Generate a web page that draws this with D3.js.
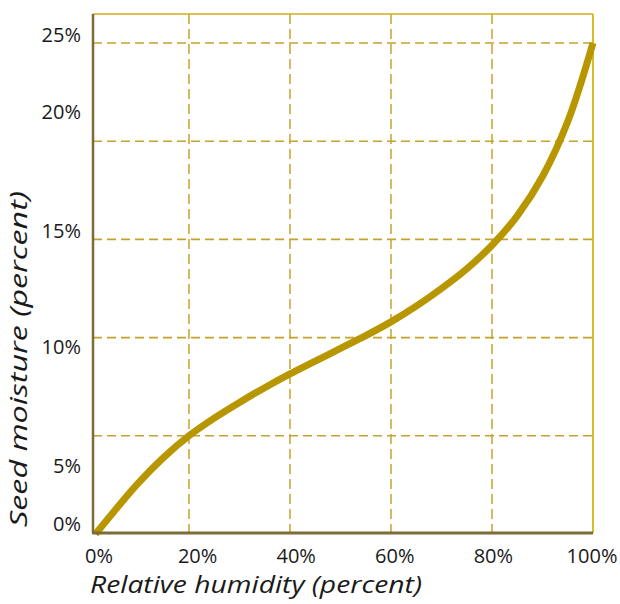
<!DOCTYPE html>
<html>
<head>
<meta charset="utf-8">
<script src="https://cdn.jsdelivr.net/npm/d3@7"></script>
<style>
  body { margin: 0; background: #fff; }
  text { font-family: "Open Sans", "Noto Sans", sans-serif; fill: #1a1a1a; }
</style>
</head>
<body>
<div id="plot"></div>
<script>
// data
var humidity = [1.5, 5, 10, 15, 20, 25, 30, 35, 40, 45, 50, 55, 60, 65, 70, 75, 80, 85, 90, 95, 100];
var moisture = [0, 1.1, 2.6, 3.9, 5.0, 5.9, 6.7, 7.45, 8.15, 8.8, 9.45, 10.1, 10.8, 11.6, 12.5, 13.5, 14.7, 16.2, 18.2, 21.0, 25.0];

var xTicks = [0, 20, 40, 60, 80, 100];
var yTicks = [0, 5, 10, 15, 20, 25];
// the moisture labels sit unevenly against the grid in the original
var yLabelAt = [0.45, 3.4, 9.45, 15.35, 21.4, 25.3];

var svgWidth = 620, svgHeight = 604;
var margin = { top: 14, right: 27, bottom: 71, left: 93 };
var width = svgWidth - margin.left - margin.right;
var height = svgHeight - margin.top - margin.bottom;

var svg = d3.select("#plot").append("svg")
    .attr("width", svgWidth)
    .attr("height", svgHeight);

var chartGroup = svg.append("g")
    .attr("transform", `translate(${margin.left}, ${margin.top})`);

var xScale = d3.scaleLinear().domain([1, 100]).range([0, width]);
var yScale = d3.scaleLinear().domain([0, 25]).range([height + 1, 29]);
var xLabelScale = d3.scaleLinear().domain([0, 100]).range([6, width - 1]);

// grid
chartGroup.selectAll(".vgrid")
    .data(xTicks.filter(d => d > 0 && d < 100))
    .enter().append("line")
    .attr("x1", d => xScale(d)).attr("x2", d => xScale(d))
    .attr("y1", 0).attr("y2", height)
    .attr("stroke", "#c9a838")
    .attr("stroke-width", 1.6)
    .attr("stroke-dasharray", "10,5");

chartGroup.selectAll(".hgrid")
    .data(yTicks.filter(d => d > 0))
    .enter().append("line")
    .attr("x1", 0).attr("x2", width)
    .attr("y1", d => yScale(d)).attr("y2", d => yScale(d))
    .attr("stroke", "#c4a22c")
    .attr("stroke-width", 1.6)
    .attr("stroke-dasharray", "9,5");

// frame: gold top/right, olive left/bottom
chartGroup.append("line")
    .attr("x1", 0).attr("x2", width).attr("y1", 0).attr("y2", 0)
    .attr("stroke", "#d4ad1e").attr("stroke-width", 1.5);
chartGroup.append("line")
    .attr("x1", width).attr("x2", width).attr("y1", 0).attr("y2", height)
    .attr("stroke", "#dcbb2a").attr("stroke-width", 2);

// the curve
var line = d3.line()
    .x((d, i) => xScale(humidity[i]))
    .y(d => yScale(d))
    .curve(d3.curveCatmullRom.alpha(0.5));

chartGroup.append("path")
    .datum(moisture)
    .attr("d", line)
    .attr("fill", "none")
    .attr("stroke", "#b89600")
    .attr("stroke-width", 7);

chartGroup.append("line")
    .attr("x1", 0).attr("x2", 0).attr("y1", 0).attr("y2", height)
    .attr("stroke", "#7d6c36").attr("stroke-width", 2.5);
chartGroup.append("line")
    .attr("x1", -1).attr("x2", width).attr("y1", height).attr("y2", height)
    .attr("stroke", "#7d6c36").attr("stroke-width", 3);

// tick labels
chartGroup.selectAll(".xlabel")
    .data(xTicks)
    .enter().append("text")
    .attr("x", d => xLabelScale(d))
    .attr("y", height + 30)
    .attr("text-anchor", "middle")
    .attr("font-size", "20px")
    .text(d => d + "%");

chartGroup.selectAll(".ylabel")
    .data(yTicks)
    .enter().append("text")
    .attr("x", -12)
    .attr("y", (d, i) => yScale(yLabelAt[i]))
    .attr("text-anchor", "end")
    .attr("dominant-baseline", "middle")
    .attr("font-size", "20px")
    .text(d => d + "%");

// X axis title
chartGroup.append("text")
    .attr("x", 163)
    .attr("y", height + 60)
    .attr("text-anchor", "middle")
    .attr("font-style", "italic")
    .attr("font-size", "23px")
    .attr("textLength", 332)
    .attr("lengthAdjust", "spacingAndGlyphs")
    .text("Relative humidity (percent)");

// Y axis title
chartGroup.append("text")
    .attr("transform", "rotate(-90)")
    .attr("x", -345)
    .attr("y", -66)
    .attr("text-anchor", "middle")
    .attr("font-style", "italic")
    .attr("font-size", "23px")
    .attr("textLength", 336)
    .attr("lengthAdjust", "spacingAndGlyphs")
    .text("Seed moisture (percent)");
</script>
</body>
</html>
